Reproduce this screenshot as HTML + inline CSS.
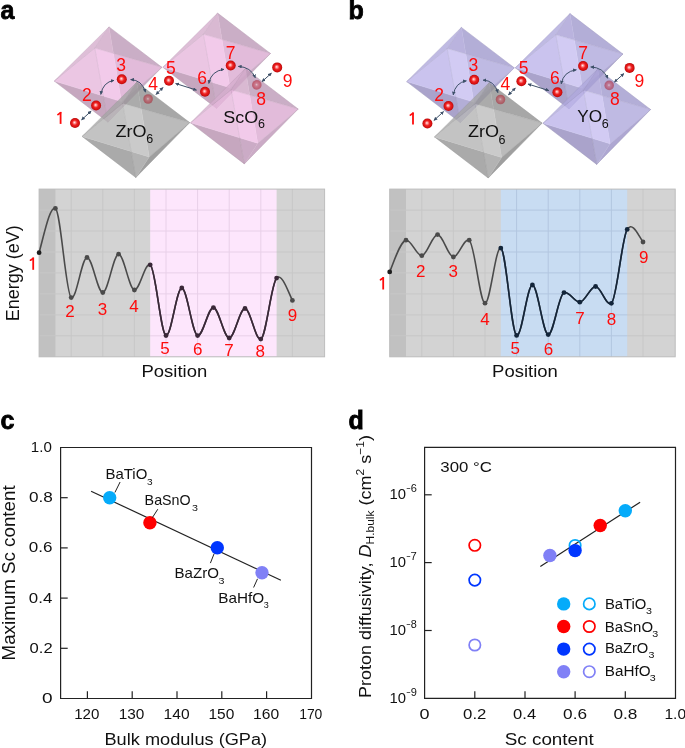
<!DOCTYPE html><html><head><meta charset="utf-8"><style>html,body{margin:0;padding:0;background:#fff;overflow:hidden}svg{display:block;will-change:transform}text{font-family:"Liberation Sans", sans-serif}</style></head><body>
<svg width="685" height="748" viewBox="0 0 685 748">
<defs>
<radialGradient id="atom" cx="0.5" cy="0.5" r="0.5" fx="0.44" fy="0.44">
<stop offset="0" stop-color="#fff0f0"/><stop offset="0.2" stop-color="#ff9a9a"/><stop offset="0.5" stop-color="#ee2222"/><stop offset="0.85" stop-color="#d40e0e"/><stop offset="1" stop-color="#b00c0c"/></radialGradient>
<radialGradient id="atomf" cx="0.5" cy="0.5" r="0.5" fx="0.47" fy="0.47">
<stop offset="0" stop-color="#f4d0d0"/><stop offset="0.3" stop-color="#cc5060"/><stop offset="0.7" stop-color="#bc1c2c"/><stop offset="1" stop-color="#a01020"/></radialGradient>
<marker id="ah" viewBox="0 0 10 10" refX="9" refY="5" markerWidth="3.7" markerHeight="3.7" orient="auto-start-reverse" markerUnits="userSpaceOnUse"><path d="M0,0 L10,5 L0,10 z" fill="#3d5068"/></marker>
</defs>
<rect width="685" height="748" fill="#fff"/>
<text x="0.5" y="19.1" font-size="25" font-weight="bold" fill="#000" stroke="#000" stroke-width="0.8">a</text>
<text x="348.5" y="19.1" font-size="25" font-weight="bold" fill="#000" stroke="#000" stroke-width="0.8">b</text>
<text x="0.5" y="429.1" font-size="25" font-weight="bold" fill="#000" stroke="#000" stroke-width="0.8">c</text>
<text x="348.5" y="428.9" font-size="25" font-weight="bold" fill="#000" stroke="#000" stroke-width="0.8">d</text>
<g transform="translate(0.0,0.0)"><g transform="translate(109.0,26.9)" opacity="0.80"><polygon points="4.40,26.52 0.00,0.00 52.90,40.40 52.90,40.40" fill="#be9ab8" stroke="#be9ab8" stroke-width="0.4"/><polygon points="-14.20,21.20 -0.00,0.00 0.00,0.00 4.40,26.52" fill="#d0a8c8" stroke="#d0a8c8" stroke-width="0.4"/><polygon points="12.40,74.70 4.40,26.52 52.90,40.40 52.90,40.40" fill="#dbabd1" stroke="#dbabd1" stroke-width="0.4"/><polygon points="12.40,74.70 52.90,40.40 -1.00,95.30" fill="#bf97b8" stroke="#bf97b8" stroke-width="0.4"/><polygon points="12.40,74.70 -1.00,95.30 -1.00,95.30 -5.65,69.18" fill="#bf97b8" stroke="#bf97b8" stroke-width="0.4"/><polygon points="12.40,74.70 -5.65,69.18 -14.20,21.20 4.40,26.52" fill="#efbde5" stroke="#efbde5" stroke-width="0.4"/><polygon points="-1.00,95.30 -1.00,95.30 -54.70,54.20 -5.65,69.18" fill="#b892b0" stroke="#b892b0" stroke-width="0.4"/><polygon points="-5.65,69.18 -54.70,54.20 -54.70,54.20 -14.20,21.20" fill="#e7b8dd" stroke="#e7b8dd" stroke-width="0.4"/><polygon points="-54.70,54.20 -54.70,54.20 0.00,0.00 0.00,0.00 -14.20,21.20" fill="#d6aece" stroke="#d6aece" stroke-width="0.4"/><g stroke="#000" stroke-opacity="0.12" stroke-width="0.6"><line x1="0.00" y1="0.00" x2="52.90" y2="40.40"/><line x1="52.90" y1="40.40" x2="-1.00" y2="95.30"/><line x1="-1.00" y1="95.30" x2="-54.70" y2="54.20"/><line x1="-54.70" y1="54.20" x2="0.00" y2="0.00"/><line x1="-14.20" y1="21.20" x2="0.00" y2="0.00"/><line x1="-14.20" y1="21.20" x2="52.90" y2="40.40"/><line x1="-14.20" y1="21.20" x2="-1.00" y2="95.30"/><line x1="-14.20" y1="21.20" x2="-54.70" y2="54.20"/></g><g stroke="#fff" stroke-opacity="0.04" stroke-width="0.6"><line x1="12.40" y1="74.70" x2="0.00" y2="0.00"/><line x1="12.40" y1="74.70" x2="52.90" y2="40.40"/><line x1="12.40" y1="74.70" x2="-1.00" y2="95.30"/><line x1="12.40" y1="74.70" x2="-54.70" y2="54.20"/></g></g><g transform="translate(217.6,13.1)" opacity="0.80"><polygon points="4.40,26.52 0.00,0.00 52.90,40.40 52.90,40.40" fill="#be9ab8" stroke="#be9ab8" stroke-width="0.4"/><polygon points="-14.20,21.20 -0.00,0.00 0.00,0.00 4.40,26.52" fill="#d0a8c8" stroke="#d0a8c8" stroke-width="0.4"/><polygon points="12.40,74.70 4.40,26.52 52.90,40.40 52.90,40.40" fill="#dbabd1" stroke="#dbabd1" stroke-width="0.4"/><polygon points="12.40,74.70 52.90,40.40 -1.00,95.30" fill="#bf97b8" stroke="#bf97b8" stroke-width="0.4"/><polygon points="12.40,74.70 -1.00,95.30 -1.00,95.30 -5.65,69.18" fill="#bf97b8" stroke="#bf97b8" stroke-width="0.4"/><polygon points="12.40,74.70 -5.65,69.18 -14.20,21.20 4.40,26.52" fill="#efbde5" stroke="#efbde5" stroke-width="0.4"/><polygon points="-1.00,95.30 -1.00,95.30 -54.70,54.20 -5.65,69.18" fill="#b892b0" stroke="#b892b0" stroke-width="0.4"/><polygon points="-5.65,69.18 -54.70,54.20 -54.70,54.20 -14.20,21.20" fill="#e7b8dd" stroke="#e7b8dd" stroke-width="0.4"/><polygon points="-54.70,54.20 -54.70,54.20 0.00,0.00 0.00,0.00 -14.20,21.20" fill="#d6aece" stroke="#d6aece" stroke-width="0.4"/><g stroke="#000" stroke-opacity="0.12" stroke-width="0.6"><line x1="0.00" y1="0.00" x2="52.90" y2="40.40"/><line x1="52.90" y1="40.40" x2="-1.00" y2="95.30"/><line x1="-1.00" y1="95.30" x2="-54.70" y2="54.20"/><line x1="-54.70" y1="54.20" x2="0.00" y2="0.00"/><line x1="-14.20" y1="21.20" x2="0.00" y2="0.00"/><line x1="-14.20" y1="21.20" x2="52.90" y2="40.40"/><line x1="-14.20" y1="21.20" x2="-1.00" y2="95.30"/><line x1="-14.20" y1="21.20" x2="-54.70" y2="54.20"/></g><g stroke="#fff" stroke-opacity="0.04" stroke-width="0.6"><line x1="12.40" y1="74.70" x2="0.00" y2="0.00"/><line x1="12.40" y1="74.70" x2="52.90" y2="40.40"/><line x1="12.40" y1="74.70" x2="-1.00" y2="95.30"/><line x1="12.40" y1="74.70" x2="-54.70" y2="54.20"/></g></g><g transform="translate(136.8,82.2)" opacity="0.80"><polygon points="4.40,26.52 0.00,0.00 52.90,40.40 52.90,40.40" fill="#929292" stroke="#929292" stroke-width="0.4"/><polygon points="-14.20,21.20 -0.00,0.00 0.00,0.00 4.40,26.52" fill="#979797" stroke="#979797" stroke-width="0.4"/><polygon points="12.40,74.70 4.40,26.52 52.90,40.40 52.90,40.40" fill="#ababab" stroke="#ababab" stroke-width="0.4"/><polygon points="12.40,74.70 52.90,40.40 -1.00,95.30" fill="#888888" stroke="#888888" stroke-width="0.4"/><polygon points="12.40,74.70 -1.00,95.30 -1.00,95.30 -5.65,69.18" fill="#a1a1a1" stroke="#a1a1a1" stroke-width="0.4"/><polygon points="12.40,74.70 -5.65,69.18 -14.20,21.20 4.40,26.52" fill="#bdbdbd" stroke="#bdbdbd" stroke-width="0.4"/><polygon points="-1.00,95.30 -1.00,95.30 -54.70,54.20 -5.65,69.18" fill="#959595" stroke="#959595" stroke-width="0.4"/><polygon points="-5.65,69.18 -54.70,54.20 -54.70,54.20 -14.20,21.20" fill="#b5b5b5" stroke="#b5b5b5" stroke-width="0.4"/><polygon points="-54.70,54.20 -54.70,54.20 0.00,0.00 0.00,0.00 -14.20,21.20" fill="#a6a6a6" stroke="#a6a6a6" stroke-width="0.4"/><g stroke="#000" stroke-opacity="0.12" stroke-width="0.6"><line x1="0.00" y1="0.00" x2="52.90" y2="40.40"/><line x1="52.90" y1="40.40" x2="-1.00" y2="95.30"/><line x1="-1.00" y1="95.30" x2="-54.70" y2="54.20"/><line x1="-54.70" y1="54.20" x2="0.00" y2="0.00"/><line x1="-14.20" y1="21.20" x2="0.00" y2="0.00"/><line x1="-14.20" y1="21.20" x2="52.90" y2="40.40"/><line x1="-14.20" y1="21.20" x2="-1.00" y2="95.30"/><line x1="-14.20" y1="21.20" x2="-54.70" y2="54.20"/></g><g stroke="#fff" stroke-opacity="0.04" stroke-width="0.6"><line x1="12.40" y1="74.70" x2="0.00" y2="0.00"/><line x1="12.40" y1="74.70" x2="52.90" y2="40.40"/><line x1="12.40" y1="74.70" x2="-1.00" y2="95.30"/><line x1="12.40" y1="74.70" x2="-54.70" y2="54.20"/></g></g><g transform="translate(245.3,68.6)" opacity="0.80"><polygon points="4.40,26.52 0.00,0.00 52.90,40.40 52.90,40.40" fill="#be9ab8" stroke="#be9ab8" stroke-width="0.4"/><polygon points="-14.20,21.20 -0.00,0.00 0.00,0.00 4.40,26.52" fill="#d0a8c8" stroke="#d0a8c8" stroke-width="0.4"/><polygon points="12.40,74.70 4.40,26.52 52.90,40.40 52.90,40.40" fill="#dbabd1" stroke="#dbabd1" stroke-width="0.4"/><polygon points="12.40,74.70 52.90,40.40 -1.00,95.30" fill="#bf97b8" stroke="#bf97b8" stroke-width="0.4"/><polygon points="12.40,74.70 -1.00,95.30 -1.00,95.30 -5.65,69.18" fill="#bf97b8" stroke="#bf97b8" stroke-width="0.4"/><polygon points="12.40,74.70 -5.65,69.18 -14.20,21.20 4.40,26.52" fill="#efbde5" stroke="#efbde5" stroke-width="0.4"/><polygon points="-1.00,95.30 -1.00,95.30 -54.70,54.20 -5.65,69.18" fill="#b892b0" stroke="#b892b0" stroke-width="0.4"/><polygon points="-5.65,69.18 -54.70,54.20 -54.70,54.20 -14.20,21.20" fill="#e7b8dd" stroke="#e7b8dd" stroke-width="0.4"/><polygon points="-54.70,54.20 -54.70,54.20 0.00,0.00 0.00,0.00 -14.20,21.20" fill="#d6aece" stroke="#d6aece" stroke-width="0.4"/><g stroke="#000" stroke-opacity="0.12" stroke-width="0.6"><line x1="0.00" y1="0.00" x2="52.90" y2="40.40"/><line x1="52.90" y1="40.40" x2="-1.00" y2="95.30"/><line x1="-1.00" y1="95.30" x2="-54.70" y2="54.20"/><line x1="-54.70" y1="54.20" x2="0.00" y2="0.00"/><line x1="-14.20" y1="21.20" x2="0.00" y2="0.00"/><line x1="-14.20" y1="21.20" x2="52.90" y2="40.40"/><line x1="-14.20" y1="21.20" x2="-1.00" y2="95.30"/><line x1="-14.20" y1="21.20" x2="-54.70" y2="54.20"/></g><g stroke="#fff" stroke-opacity="0.04" stroke-width="0.6"><line x1="12.40" y1="74.70" x2="0.00" y2="0.00"/><line x1="12.40" y1="74.70" x2="52.90" y2="40.40"/><line x1="12.40" y1="74.70" x2="-1.00" y2="95.30"/><line x1="12.40" y1="74.70" x2="-54.70" y2="54.20"/></g></g><g opacity="0.5"><circle cx="148.1" cy="99.0" r="4.8" fill="url(#atomf)"/><circle cx="256.8" cy="84.9" r="4.8" fill="url(#atomf)"/></g><circle cx="75.0" cy="123.0" r="5.0" fill="url(#atom)"/><circle cx="96.1" cy="105.5" r="5.0" fill="url(#atom)"/><circle cx="121.8" cy="79.2" r="5.0" fill="url(#atom)"/><circle cx="169.0" cy="80.7" r="5.0" fill="url(#atom)"/><circle cx="205.0" cy="91.7" r="5.0" fill="url(#atom)"/><circle cx="230.7" cy="65.5" r="5.0" fill="url(#atom)"/><circle cx="277.2" cy="67.4" r="5.0" fill="url(#atom)"/><line x1="81.5" y1="119.9" x2="91.2" y2="111.1" stroke="#3d5068" stroke-width="1.0" marker-start="url(#ah)" marker-end="url(#ah)"/><path d="M100.8,94.5 Q103.0,82.0 114.0,80.4" fill="none" stroke="#3d5068" stroke-width="1.0" marker-start="url(#ah)" marker-end="url(#ah)"/><path d="M130.6,79.6 Q142.0,80.0 145.5,92.2" fill="none" stroke="#3d5068" stroke-width="1.0" marker-start="url(#ah)" marker-end="url(#ah)"/><line x1="156.0" y1="94.5" x2="163.0" y2="87.4" stroke="#3d5068" stroke-width="1.0" marker-start="url(#ah)" marker-end="url(#ah)"/><line x1="175.6" y1="83.5" x2="196.5" y2="90.1" stroke="#3d5068" stroke-width="1.0" marker-start="url(#ah)" marker-end="url(#ah)"/><path d="M208.8,83.5 Q211.0,71.0 224.0,69.3" fill="none" stroke="#3d5068" stroke-width="1.0" marker-start="url(#ah)" marker-end="url(#ah)"/><path d="M238.3,66.4 Q251.0,67.0 255.3,77.8" fill="none" stroke="#3d5068" stroke-width="1.0" marker-start="url(#ah)" marker-end="url(#ah)"/><line x1="262.0" y1="81.6" x2="271.5" y2="73.1" stroke="#3d5068" stroke-width="1.0" marker-start="url(#ah)" marker-end="url(#ah)"/><path d="M59.70,123.90 V111.90 H61.50 V123.90 Z" fill="#fe0c0c"/><line x1="60.60" y1="112.80" x2="57.90" y2="114.60" stroke="#fe0c0c" stroke-width="1.7" stroke-linecap="round"/><text x="86.8" y="100.5" font-size="17.5" fill="#fe0c0c" text-anchor="middle">2</text><text x="121.0" y="70.7" font-size="17.5" fill="#fe0c0c" text-anchor="middle">3</text><text x="153.0" y="89.8" font-size="17.5" fill="#fe0c0c" text-anchor="middle">4</text><text x="170.9" y="74.3" font-size="17.5" fill="#fe0c0c" text-anchor="middle">5</text><text x="202.0" y="83.8" font-size="17.5" fill="#fe0c0c" text-anchor="middle">6</text><text x="230.7" y="58.8" font-size="17.5" fill="#fe0c0c" text-anchor="middle">7</text><text x="261.0" y="104.8" font-size="17.5" fill="#fe0c0c" text-anchor="middle">8</text><text x="287.5" y="86.6" font-size="17.5" fill="#fe0c0c" text-anchor="middle">9</text><text x="115.6" y="136.9" font-size="16.5" fill="#111" textLength="31" lengthAdjust="spacingAndGlyphs">ZrO</text><text x="146.2" y="143" font-size="12.5" fill="#111">6</text><text x="223.2" y="122.7" font-size="16.5" fill="#111" textLength="35" lengthAdjust="spacingAndGlyphs">ScO</text><text x="257.9" y="128.3" font-size="12.5" fill="#111">6</text></g>
<g transform="translate(352.4,0.5)"><g transform="translate(109.0,26.9)" opacity="0.80"><polygon points="4.40,26.52 0.00,0.00 52.90,40.40 52.90,40.40" fill="#a19ace" stroke="#a19ace" stroke-width="0.4"/><polygon points="-14.20,21.20 -0.00,0.00 0.00,0.00 4.40,26.52" fill="#a9a1d6" stroke="#a9a1d6" stroke-width="0.4"/><polygon points="12.40,74.70 4.40,26.52 52.90,40.40 52.90,40.40" fill="#b0a9dd" stroke="#b0a9dd" stroke-width="0.4"/><polygon points="12.40,74.70 52.90,40.40 -1.00,95.30" fill="#9a92c7" stroke="#9a92c7" stroke-width="0.4"/><polygon points="12.40,74.70 -1.00,95.30 -1.00,95.30 -5.65,69.18" fill="#a19acc" stroke="#a19acc" stroke-width="0.4"/><polygon points="12.40,74.70 -5.65,69.18 -14.20,21.20 4.40,26.52" fill="#c7bff1" stroke="#c7bff1" stroke-width="0.4"/><polygon points="-1.00,95.30 -1.00,95.30 -54.70,54.20 -5.65,69.18" fill="#958dbf" stroke="#958dbf" stroke-width="0.4"/><polygon points="-5.65,69.18 -54.70,54.20 -54.70,54.20 -14.20,21.20" fill="#bdb5ea" stroke="#bdb5ea" stroke-width="0.4"/><polygon points="-54.70,54.20 -54.70,54.20 0.00,0.00 0.00,0.00 -14.20,21.20" fill="#b0a9dd" stroke="#b0a9dd" stroke-width="0.4"/><g stroke="#000" stroke-opacity="0.12" stroke-width="0.6"><line x1="0.00" y1="0.00" x2="52.90" y2="40.40"/><line x1="52.90" y1="40.40" x2="-1.00" y2="95.30"/><line x1="-1.00" y1="95.30" x2="-54.70" y2="54.20"/><line x1="-54.70" y1="54.20" x2="0.00" y2="0.00"/><line x1="-14.20" y1="21.20" x2="0.00" y2="0.00"/><line x1="-14.20" y1="21.20" x2="52.90" y2="40.40"/><line x1="-14.20" y1="21.20" x2="-1.00" y2="95.30"/><line x1="-14.20" y1="21.20" x2="-54.70" y2="54.20"/></g><g stroke="#fff" stroke-opacity="0.04" stroke-width="0.6"><line x1="12.40" y1="74.70" x2="0.00" y2="0.00"/><line x1="12.40" y1="74.70" x2="52.90" y2="40.40"/><line x1="12.40" y1="74.70" x2="-1.00" y2="95.30"/><line x1="12.40" y1="74.70" x2="-54.70" y2="54.20"/></g></g><g transform="translate(217.6,13.1)" opacity="0.80"><polygon points="4.40,26.52 0.00,0.00 52.90,40.40 52.90,40.40" fill="#a19ace" stroke="#a19ace" stroke-width="0.4"/><polygon points="-14.20,21.20 -0.00,0.00 0.00,0.00 4.40,26.52" fill="#a9a1d6" stroke="#a9a1d6" stroke-width="0.4"/><polygon points="12.40,74.70 4.40,26.52 52.90,40.40 52.90,40.40" fill="#b0a9dd" stroke="#b0a9dd" stroke-width="0.4"/><polygon points="12.40,74.70 52.90,40.40 -1.00,95.30" fill="#9a92c7" stroke="#9a92c7" stroke-width="0.4"/><polygon points="12.40,74.70 -1.00,95.30 -1.00,95.30 -5.65,69.18" fill="#a19acc" stroke="#a19acc" stroke-width="0.4"/><polygon points="12.40,74.70 -5.65,69.18 -14.20,21.20 4.40,26.52" fill="#c7bff1" stroke="#c7bff1" stroke-width="0.4"/><polygon points="-1.00,95.30 -1.00,95.30 -54.70,54.20 -5.65,69.18" fill="#958dbf" stroke="#958dbf" stroke-width="0.4"/><polygon points="-5.65,69.18 -54.70,54.20 -54.70,54.20 -14.20,21.20" fill="#bdb5ea" stroke="#bdb5ea" stroke-width="0.4"/><polygon points="-54.70,54.20 -54.70,54.20 0.00,0.00 0.00,0.00 -14.20,21.20" fill="#b0a9dd" stroke="#b0a9dd" stroke-width="0.4"/><g stroke="#000" stroke-opacity="0.12" stroke-width="0.6"><line x1="0.00" y1="0.00" x2="52.90" y2="40.40"/><line x1="52.90" y1="40.40" x2="-1.00" y2="95.30"/><line x1="-1.00" y1="95.30" x2="-54.70" y2="54.20"/><line x1="-54.70" y1="54.20" x2="0.00" y2="0.00"/><line x1="-14.20" y1="21.20" x2="0.00" y2="0.00"/><line x1="-14.20" y1="21.20" x2="52.90" y2="40.40"/><line x1="-14.20" y1="21.20" x2="-1.00" y2="95.30"/><line x1="-14.20" y1="21.20" x2="-54.70" y2="54.20"/></g><g stroke="#fff" stroke-opacity="0.04" stroke-width="0.6"><line x1="12.40" y1="74.70" x2="0.00" y2="0.00"/><line x1="12.40" y1="74.70" x2="52.90" y2="40.40"/><line x1="12.40" y1="74.70" x2="-1.00" y2="95.30"/><line x1="12.40" y1="74.70" x2="-54.70" y2="54.20"/></g></g><g transform="translate(136.8,82.2)" opacity="0.80"><polygon points="4.40,26.52 0.00,0.00 52.90,40.40 52.90,40.40" fill="#929292" stroke="#929292" stroke-width="0.4"/><polygon points="-14.20,21.20 -0.00,0.00 0.00,0.00 4.40,26.52" fill="#979797" stroke="#979797" stroke-width="0.4"/><polygon points="12.40,74.70 4.40,26.52 52.90,40.40 52.90,40.40" fill="#ababab" stroke="#ababab" stroke-width="0.4"/><polygon points="12.40,74.70 52.90,40.40 -1.00,95.30" fill="#888888" stroke="#888888" stroke-width="0.4"/><polygon points="12.40,74.70 -1.00,95.30 -1.00,95.30 -5.65,69.18" fill="#a1a1a1" stroke="#a1a1a1" stroke-width="0.4"/><polygon points="12.40,74.70 -5.65,69.18 -14.20,21.20 4.40,26.52" fill="#bdbdbd" stroke="#bdbdbd" stroke-width="0.4"/><polygon points="-1.00,95.30 -1.00,95.30 -54.70,54.20 -5.65,69.18" fill="#959595" stroke="#959595" stroke-width="0.4"/><polygon points="-5.65,69.18 -54.70,54.20 -54.70,54.20 -14.20,21.20" fill="#b5b5b5" stroke="#b5b5b5" stroke-width="0.4"/><polygon points="-54.70,54.20 -54.70,54.20 0.00,0.00 0.00,0.00 -14.20,21.20" fill="#a6a6a6" stroke="#a6a6a6" stroke-width="0.4"/><g stroke="#000" stroke-opacity="0.12" stroke-width="0.6"><line x1="0.00" y1="0.00" x2="52.90" y2="40.40"/><line x1="52.90" y1="40.40" x2="-1.00" y2="95.30"/><line x1="-1.00" y1="95.30" x2="-54.70" y2="54.20"/><line x1="-54.70" y1="54.20" x2="0.00" y2="0.00"/><line x1="-14.20" y1="21.20" x2="0.00" y2="0.00"/><line x1="-14.20" y1="21.20" x2="52.90" y2="40.40"/><line x1="-14.20" y1="21.20" x2="-1.00" y2="95.30"/><line x1="-14.20" y1="21.20" x2="-54.70" y2="54.20"/></g><g stroke="#fff" stroke-opacity="0.04" stroke-width="0.6"><line x1="12.40" y1="74.70" x2="0.00" y2="0.00"/><line x1="12.40" y1="74.70" x2="52.90" y2="40.40"/><line x1="12.40" y1="74.70" x2="-1.00" y2="95.30"/><line x1="12.40" y1="74.70" x2="-54.70" y2="54.20"/></g></g><g transform="translate(245.3,68.6)" opacity="0.80"><polygon points="4.40,26.52 0.00,0.00 52.90,40.40 52.90,40.40" fill="#a19ace" stroke="#a19ace" stroke-width="0.4"/><polygon points="-14.20,21.20 -0.00,0.00 0.00,0.00 4.40,26.52" fill="#a9a1d6" stroke="#a9a1d6" stroke-width="0.4"/><polygon points="12.40,74.70 4.40,26.52 52.90,40.40 52.90,40.40" fill="#b0a9dd" stroke="#b0a9dd" stroke-width="0.4"/><polygon points="12.40,74.70 52.90,40.40 -1.00,95.30" fill="#9a92c7" stroke="#9a92c7" stroke-width="0.4"/><polygon points="12.40,74.70 -1.00,95.30 -1.00,95.30 -5.65,69.18" fill="#a19acc" stroke="#a19acc" stroke-width="0.4"/><polygon points="12.40,74.70 -5.65,69.18 -14.20,21.20 4.40,26.52" fill="#c7bff1" stroke="#c7bff1" stroke-width="0.4"/><polygon points="-1.00,95.30 -1.00,95.30 -54.70,54.20 -5.65,69.18" fill="#958dbf" stroke="#958dbf" stroke-width="0.4"/><polygon points="-5.65,69.18 -54.70,54.20 -54.70,54.20 -14.20,21.20" fill="#bdb5ea" stroke="#bdb5ea" stroke-width="0.4"/><polygon points="-54.70,54.20 -54.70,54.20 0.00,0.00 0.00,0.00 -14.20,21.20" fill="#b0a9dd" stroke="#b0a9dd" stroke-width="0.4"/><g stroke="#000" stroke-opacity="0.12" stroke-width="0.6"><line x1="0.00" y1="0.00" x2="52.90" y2="40.40"/><line x1="52.90" y1="40.40" x2="-1.00" y2="95.30"/><line x1="-1.00" y1="95.30" x2="-54.70" y2="54.20"/><line x1="-54.70" y1="54.20" x2="0.00" y2="0.00"/><line x1="-14.20" y1="21.20" x2="0.00" y2="0.00"/><line x1="-14.20" y1="21.20" x2="52.90" y2="40.40"/><line x1="-14.20" y1="21.20" x2="-1.00" y2="95.30"/><line x1="-14.20" y1="21.20" x2="-54.70" y2="54.20"/></g><g stroke="#fff" stroke-opacity="0.04" stroke-width="0.6"><line x1="12.40" y1="74.70" x2="0.00" y2="0.00"/><line x1="12.40" y1="74.70" x2="52.90" y2="40.40"/><line x1="12.40" y1="74.70" x2="-1.00" y2="95.30"/><line x1="12.40" y1="74.70" x2="-54.70" y2="54.20"/></g></g><g opacity="0.5"><circle cx="148.1" cy="99.0" r="4.8" fill="url(#atomf)"/><circle cx="256.8" cy="84.9" r="4.8" fill="url(#atomf)"/></g><circle cx="75.0" cy="123.0" r="5.0" fill="url(#atom)"/><circle cx="96.1" cy="105.5" r="5.0" fill="url(#atom)"/><circle cx="121.8" cy="79.2" r="5.0" fill="url(#atom)"/><circle cx="169.0" cy="80.7" r="5.0" fill="url(#atom)"/><circle cx="205.0" cy="91.7" r="5.0" fill="url(#atom)"/><circle cx="230.7" cy="65.5" r="5.0" fill="url(#atom)"/><circle cx="277.2" cy="67.4" r="5.0" fill="url(#atom)"/><line x1="81.5" y1="119.9" x2="91.2" y2="111.1" stroke="#3d5068" stroke-width="1.0" marker-start="url(#ah)" marker-end="url(#ah)"/><path d="M100.8,94.5 Q103.0,82.0 114.0,80.4" fill="none" stroke="#3d5068" stroke-width="1.0" marker-start="url(#ah)" marker-end="url(#ah)"/><path d="M130.6,79.6 Q142.0,80.0 145.5,92.2" fill="none" stroke="#3d5068" stroke-width="1.0" marker-start="url(#ah)" marker-end="url(#ah)"/><line x1="156.0" y1="94.5" x2="163.0" y2="87.4" stroke="#3d5068" stroke-width="1.0" marker-start="url(#ah)" marker-end="url(#ah)"/><line x1="175.6" y1="83.5" x2="196.5" y2="90.1" stroke="#3d5068" stroke-width="1.0" marker-start="url(#ah)" marker-end="url(#ah)"/><path d="M208.8,83.5 Q211.0,71.0 224.0,69.3" fill="none" stroke="#3d5068" stroke-width="1.0" marker-start="url(#ah)" marker-end="url(#ah)"/><path d="M238.3,66.4 Q251.0,67.0 255.3,77.8" fill="none" stroke="#3d5068" stroke-width="1.0" marker-start="url(#ah)" marker-end="url(#ah)"/><line x1="262.0" y1="81.6" x2="271.5" y2="73.1" stroke="#3d5068" stroke-width="1.0" marker-start="url(#ah)" marker-end="url(#ah)"/><path d="M59.70,123.90 V111.90 H61.50 V123.90 Z" fill="#fe0c0c"/><line x1="60.60" y1="112.80" x2="57.90" y2="114.60" stroke="#fe0c0c" stroke-width="1.7" stroke-linecap="round"/><text x="86.8" y="100.5" font-size="17.5" fill="#fe0c0c" text-anchor="middle">2</text><text x="121.0" y="70.7" font-size="17.5" fill="#fe0c0c" text-anchor="middle">3</text><text x="153.0" y="89.8" font-size="17.5" fill="#fe0c0c" text-anchor="middle">4</text><text x="171.2" y="73.7" font-size="17.5" fill="#fe0c0c" text-anchor="middle">5</text><text x="202.5" y="83.0" font-size="17.5" fill="#fe0c0c" text-anchor="middle">6</text><text x="230.7" y="58.2" font-size="17.5" fill="#fe0c0c" text-anchor="middle">7</text><text x="262.6" y="104.8" font-size="17.5" fill="#fe0c0c" text-anchor="middle">8</text><text x="286.9" y="86.0" font-size="17.5" fill="#fe0c0c" text-anchor="middle">9</text><text x="115.6" y="136.9" font-size="16.5" fill="#111" textLength="31" lengthAdjust="spacingAndGlyphs">ZrO</text><text x="146.2" y="143" font-size="12.5" fill="#111">6</text><text x="224.8" y="121.9" font-size="16.5" fill="#111" textLength="24.8" lengthAdjust="spacingAndGlyphs">YO</text><text x="249.4" y="127.8" font-size="12.5" fill="#111">6</text></g>
<rect x="39.1" y="189.1" width="285.5" height="167.7" fill="#d3d3d3"/><rect x="39.1" y="189.1" width="16.3" height="167.7" fill="#c1c1c1"/><rect x="150.2" y="189.1" width="126.4" height="167.7" fill="#fde6fc"/><line x1="71.2" y1="189.1" x2="71.2" y2="356.8" stroke="#c7c7c7" stroke-width="1"/><line x1="102.8" y1="189.1" x2="102.8" y2="356.8" stroke="#c7c7c7" stroke-width="1"/><line x1="134.4" y1="189.1" x2="134.4" y2="356.8" stroke="#c7c7c7" stroke-width="1"/><line x1="166.0" y1="189.1" x2="166.0" y2="356.8" stroke="#e8d0e8" stroke-width="1"/><line x1="197.6" y1="189.1" x2="197.6" y2="356.8" stroke="#e8d0e8" stroke-width="1"/><line x1="229.2" y1="189.1" x2="229.2" y2="356.8" stroke="#e8d0e8" stroke-width="1"/><line x1="260.8" y1="189.1" x2="260.8" y2="356.8" stroke="#e8d0e8" stroke-width="1"/><line x1="292.4" y1="189.1" x2="292.4" y2="356.8" stroke="#c7c7c7" stroke-width="1"/><line x1="39.1" y1="210.1" x2="150.2" y2="210.1" stroke="#c7c7c7" stroke-width="1"/><line x1="150.2" y1="210.1" x2="276.6" y2="210.1" stroke="#e8d0e8" stroke-width="1"/><line x1="276.6" y1="210.1" x2="324.6" y2="210.1" stroke="#c7c7c7" stroke-width="1"/><line x1="39.1" y1="231.0" x2="150.2" y2="231.0" stroke="#c7c7c7" stroke-width="1"/><line x1="150.2" y1="231.0" x2="276.6" y2="231.0" stroke="#e8d0e8" stroke-width="1"/><line x1="276.6" y1="231.0" x2="324.6" y2="231.0" stroke="#c7c7c7" stroke-width="1"/><line x1="39.1" y1="252.0" x2="150.2" y2="252.0" stroke="#c7c7c7" stroke-width="1"/><line x1="150.2" y1="252.0" x2="276.6" y2="252.0" stroke="#e8d0e8" stroke-width="1"/><line x1="276.6" y1="252.0" x2="324.6" y2="252.0" stroke="#c7c7c7" stroke-width="1"/><line x1="39.1" y1="272.9" x2="150.2" y2="272.9" stroke="#c7c7c7" stroke-width="1"/><line x1="150.2" y1="272.9" x2="276.6" y2="272.9" stroke="#e8d0e8" stroke-width="1"/><line x1="276.6" y1="272.9" x2="324.6" y2="272.9" stroke="#c7c7c7" stroke-width="1"/><line x1="39.1" y1="293.9" x2="150.2" y2="293.9" stroke="#c7c7c7" stroke-width="1"/><line x1="150.2" y1="293.9" x2="276.6" y2="293.9" stroke="#e8d0e8" stroke-width="1"/><line x1="276.6" y1="293.9" x2="324.6" y2="293.9" stroke="#c7c7c7" stroke-width="1"/><line x1="39.1" y1="314.9" x2="150.2" y2="314.9" stroke="#c7c7c7" stroke-width="1"/><line x1="150.2" y1="314.9" x2="276.6" y2="314.9" stroke="#e8d0e8" stroke-width="1"/><line x1="276.6" y1="314.9" x2="324.6" y2="314.9" stroke="#c7c7c7" stroke-width="1"/><line x1="39.1" y1="335.8" x2="150.2" y2="335.8" stroke="#c7c7c7" stroke-width="1"/><line x1="150.2" y1="335.8" x2="276.6" y2="335.8" stroke="#e8d0e8" stroke-width="1"/><line x1="276.6" y1="335.8" x2="324.6" y2="335.8" stroke="#c7c7c7" stroke-width="1"/><rect x="39.1" y="189.1" width="285.5" height="167.7" fill="none" stroke="#bdbdbd" stroke-width="1"/><clipPath id="clip39"><rect x="150.2" y="0" width="126.4" height="748"/></clipPath><path d="M39.10,252.70 C44.53,232.71 49.97,205.74 55.40,208.40 C60.67,210.98 65.93,294.74 71.20,297.60 C76.47,300.46 81.73,257.80 87.00,257.50 C92.27,257.20 97.53,292.69 102.80,292.50 C108.07,292.31 113.33,254.35 118.60,254.20 C123.87,254.05 129.13,289.38 134.40,290.00 C139.67,290.62 144.93,262.15 150.20,264.80 C155.47,267.45 160.73,334.15 166.00,335.50 C171.27,336.85 176.53,287.99 181.80,288.00 C187.07,288.01 192.33,334.46 197.60,335.60 C202.87,336.74 208.13,307.46 213.40,307.60 C218.67,307.74 223.93,337.95 229.20,338.00 C234.47,338.05 239.73,308.44 245.00,308.50 C250.27,308.56 255.53,340.87 260.80,339.10 C266.07,337.33 271.33,283.26 276.60,278.10 C281.87,272.94 287.13,289.19 292.40,300.40" fill="none" stroke="#4a4a4a" stroke-width="1.6"/><g clip-path="url(#clip39)"><path d="M39.10,252.70 C44.53,232.71 49.97,205.74 55.40,208.40 C60.67,210.98 65.93,294.74 71.20,297.60 C76.47,300.46 81.73,257.80 87.00,257.50 C92.27,257.20 97.53,292.69 102.80,292.50 C108.07,292.31 113.33,254.35 118.60,254.20 C123.87,254.05 129.13,289.38 134.40,290.00 C139.67,290.62 144.93,262.15 150.20,264.80 C155.47,267.45 160.73,334.15 166.00,335.50 C171.27,336.85 176.53,287.99 181.80,288.00 C187.07,288.01 192.33,334.46 197.60,335.60 C202.87,336.74 208.13,307.46 213.40,307.60 C218.67,307.74 223.93,337.95 229.20,338.00 C234.47,338.05 239.73,308.44 245.00,308.50 C250.27,308.56 255.53,340.87 260.80,339.10 C266.07,337.33 271.33,283.26 276.60,278.10 C281.87,272.94 287.13,289.19 292.40,300.40" fill="none" stroke="#3a2838" stroke-width="1.6"/></g><circle cx="39.10" cy="252.70" r="2.4" fill="#1e1e1e"/><circle cx="55.40" cy="208.40" r="2.4" fill="#4a4a4a"/><circle cx="71.20" cy="297.60" r="2.4" fill="#4a4a4a"/><circle cx="87.00" cy="257.50" r="2.4" fill="#4a4a4a"/><circle cx="102.80" cy="292.50" r="2.4" fill="#4a4a4a"/><circle cx="118.60" cy="254.20" r="2.4" fill="#4a4a4a"/><circle cx="134.40" cy="290.00" r="2.4" fill="#4a4a4a"/><circle cx="150.20" cy="264.80" r="2.4" fill="#3a2838"/><circle cx="166.00" cy="335.50" r="2.4" fill="#3a2838"/><circle cx="181.80" cy="288.00" r="2.4" fill="#3a2838"/><circle cx="197.60" cy="335.60" r="2.4" fill="#3a2838"/><circle cx="213.40" cy="307.60" r="2.4" fill="#3a2838"/><circle cx="229.20" cy="338.00" r="2.4" fill="#3a2838"/><circle cx="245.00" cy="308.50" r="2.4" fill="#3a2838"/><circle cx="260.80" cy="339.10" r="2.4" fill="#3a2838"/><circle cx="276.60" cy="278.10" r="2.4" fill="#3a2838"/><circle cx="292.40" cy="300.40" r="2.4" fill="#4a4a4a"/><text x="70.1" y="317.3" font-size="17.0" fill="#fe0c0c" text-anchor="middle">2</text><text x="102.4" y="314.8" font-size="17.0" fill="#fe0c0c" text-anchor="middle">3</text><text x="134.1" y="312.2" font-size="17.0" fill="#fe0c0c" text-anchor="middle">4</text><text x="165.1" y="354.1" font-size="17.0" fill="#fe0c0c" text-anchor="middle">5</text><text x="197.8" y="354.8" font-size="17.0" fill="#fe0c0c" text-anchor="middle">6</text><text x="229.0" y="356.0" font-size="17.0" fill="#fe0c0c" text-anchor="middle">7</text><text x="260.3" y="356.8" font-size="17.0" fill="#fe0c0c" text-anchor="middle">8</text><text x="292.6" y="320.9" font-size="17.0" fill="#fe0c0c" text-anchor="middle">9</text><path d="M32.30,269.80 V257.50 H34.10 V269.80 Z" fill="#fe0c0c"/><line x1="33.20" y1="258.40" x2="30.50" y2="260.20" stroke="#fe0c0c" stroke-width="1.7" stroke-linecap="round"/><text x="141.48" y="377.40" font-size="17.00" fill="#111" textLength="65.73" lengthAdjust="spacingAndGlyphs">Position</text>
<rect x="389.7" y="189.1" width="285.5" height="167.7" fill="#d3d3d3"/><rect x="389.7" y="189.1" width="16.3" height="167.7" fill="#c1c1c1"/><rect x="500.8" y="189.1" width="126.4" height="167.7" fill="#c8dcf2"/><line x1="421.8" y1="189.1" x2="421.8" y2="356.8" stroke="#c7c7c7" stroke-width="1"/><line x1="453.4" y1="189.1" x2="453.4" y2="356.8" stroke="#c7c7c7" stroke-width="1"/><line x1="485.0" y1="189.1" x2="485.0" y2="356.8" stroke="#c7c7c7" stroke-width="1"/><line x1="516.6" y1="189.1" x2="516.6" y2="356.8" stroke="#b2c6e0" stroke-width="1"/><line x1="548.2" y1="189.1" x2="548.2" y2="356.8" stroke="#b2c6e0" stroke-width="1"/><line x1="579.8" y1="189.1" x2="579.8" y2="356.8" stroke="#b2c6e0" stroke-width="1"/><line x1="611.4" y1="189.1" x2="611.4" y2="356.8" stroke="#b2c6e0" stroke-width="1"/><line x1="643.0" y1="189.1" x2="643.0" y2="356.8" stroke="#c7c7c7" stroke-width="1"/><line x1="389.7" y1="210.1" x2="500.8" y2="210.1" stroke="#c7c7c7" stroke-width="1"/><line x1="500.8" y1="210.1" x2="627.2" y2="210.1" stroke="#b2c6e0" stroke-width="1"/><line x1="627.2" y1="210.1" x2="675.2" y2="210.1" stroke="#c7c7c7" stroke-width="1"/><line x1="389.7" y1="231.0" x2="500.8" y2="231.0" stroke="#c7c7c7" stroke-width="1"/><line x1="500.8" y1="231.0" x2="627.2" y2="231.0" stroke="#b2c6e0" stroke-width="1"/><line x1="627.2" y1="231.0" x2="675.2" y2="231.0" stroke="#c7c7c7" stroke-width="1"/><line x1="389.7" y1="252.0" x2="500.8" y2="252.0" stroke="#c7c7c7" stroke-width="1"/><line x1="500.8" y1="252.0" x2="627.2" y2="252.0" stroke="#b2c6e0" stroke-width="1"/><line x1="627.2" y1="252.0" x2="675.2" y2="252.0" stroke="#c7c7c7" stroke-width="1"/><line x1="389.7" y1="272.9" x2="500.8" y2="272.9" stroke="#c7c7c7" stroke-width="1"/><line x1="500.8" y1="272.9" x2="627.2" y2="272.9" stroke="#b2c6e0" stroke-width="1"/><line x1="627.2" y1="272.9" x2="675.2" y2="272.9" stroke="#c7c7c7" stroke-width="1"/><line x1="389.7" y1="293.9" x2="500.8" y2="293.9" stroke="#c7c7c7" stroke-width="1"/><line x1="500.8" y1="293.9" x2="627.2" y2="293.9" stroke="#b2c6e0" stroke-width="1"/><line x1="627.2" y1="293.9" x2="675.2" y2="293.9" stroke="#c7c7c7" stroke-width="1"/><line x1="389.7" y1="314.9" x2="500.8" y2="314.9" stroke="#c7c7c7" stroke-width="1"/><line x1="500.8" y1="314.9" x2="627.2" y2="314.9" stroke="#b2c6e0" stroke-width="1"/><line x1="627.2" y1="314.9" x2="675.2" y2="314.9" stroke="#c7c7c7" stroke-width="1"/><line x1="389.7" y1="335.8" x2="500.8" y2="335.8" stroke="#c7c7c7" stroke-width="1"/><line x1="500.8" y1="335.8" x2="627.2" y2="335.8" stroke="#b2c6e0" stroke-width="1"/><line x1="627.2" y1="335.8" x2="675.2" y2="335.8" stroke="#c7c7c7" stroke-width="1"/><rect x="389.7" y="189.1" width="285.5" height="167.7" fill="none" stroke="#bdbdbd" stroke-width="1"/><clipPath id="clip389"><rect x="500.8" y="0" width="126.4" height="748"/></clipPath><path d="M389.70,271.90 C395.13,258.45 400.57,241.16 406.00,240.20 C411.27,239.27 416.53,256.03 421.80,255.70 C427.07,255.37 432.33,234.52 437.60,234.60 C442.87,234.68 448.13,256.67 453.40,257.00 C458.67,257.33 463.93,237.50 469.20,240.20 C474.47,242.89 479.73,302.74 485.00,303.20 C490.27,303.66 495.53,246.22 500.80,248.10 C506.07,249.98 511.33,333.25 516.60,335.40 C521.87,337.55 527.13,285.05 532.40,285.00 C537.67,284.95 542.93,334.16 548.20,334.60 C553.47,335.04 558.73,294.49 564.00,292.60 C569.27,290.71 574.53,302.56 579.80,302.20 C585.07,301.84 590.33,286.44 595.60,286.50 C600.87,286.56 606.13,306.63 611.40,303.30 C616.67,299.97 621.93,237.57 627.20,229.40 C632.47,221.23 637.73,234.09 643.00,242.00" fill="none" stroke="#4a4a4a" stroke-width="1.6"/><g clip-path="url(#clip389)"><path d="M389.70,271.90 C395.13,258.45 400.57,241.16 406.00,240.20 C411.27,239.27 416.53,256.03 421.80,255.70 C427.07,255.37 432.33,234.52 437.60,234.60 C442.87,234.68 448.13,256.67 453.40,257.00 C458.67,257.33 463.93,237.50 469.20,240.20 C474.47,242.89 479.73,302.74 485.00,303.20 C490.27,303.66 495.53,246.22 500.80,248.10 C506.07,249.98 511.33,333.25 516.60,335.40 C521.87,337.55 527.13,285.05 532.40,285.00 C537.67,284.95 542.93,334.16 548.20,334.60 C553.47,335.04 558.73,294.49 564.00,292.60 C569.27,290.71 574.53,302.56 579.80,302.20 C585.07,301.84 590.33,286.44 595.60,286.50 C600.87,286.56 606.13,306.63 611.40,303.30 C616.67,299.97 621.93,237.57 627.20,229.40 C632.47,221.23 637.73,234.09 643.00,242.00" fill="none" stroke="#13253a" stroke-width="1.6"/></g><circle cx="389.70" cy="271.90" r="2.4" fill="#1e1e1e"/><circle cx="406.00" cy="240.20" r="2.4" fill="#4a4a4a"/><circle cx="421.80" cy="255.70" r="2.4" fill="#4a4a4a"/><circle cx="437.60" cy="234.60" r="2.4" fill="#4a4a4a"/><circle cx="453.40" cy="257.00" r="2.4" fill="#4a4a4a"/><circle cx="469.20" cy="240.20" r="2.4" fill="#4a4a4a"/><circle cx="485.00" cy="303.20" r="2.4" fill="#4a4a4a"/><circle cx="500.80" cy="248.10" r="2.4" fill="#13253a"/><circle cx="516.60" cy="335.40" r="2.4" fill="#13253a"/><circle cx="532.40" cy="285.00" r="2.4" fill="#13253a"/><circle cx="548.20" cy="334.60" r="2.4" fill="#13253a"/><circle cx="564.00" cy="292.60" r="2.4" fill="#13253a"/><circle cx="579.80" cy="302.20" r="2.4" fill="#13253a"/><circle cx="595.60" cy="286.50" r="2.4" fill="#13253a"/><circle cx="611.40" cy="303.30" r="2.4" fill="#13253a"/><circle cx="627.20" cy="229.40" r="2.4" fill="#13253a"/><circle cx="643.00" cy="242.00" r="2.4" fill="#4a4a4a"/><text x="420.7" y="276.7" font-size="17.0" fill="#fe0c0c" text-anchor="middle">2</text><text x="453.2" y="276.7" font-size="17.0" fill="#fe0c0c" text-anchor="middle">3</text><text x="485.0" y="324.9" font-size="17.0" fill="#fe0c0c" text-anchor="middle">4</text><text x="515.2" y="354.1" font-size="17.0" fill="#fe0c0c" text-anchor="middle">5</text><text x="548.6" y="354.5" font-size="17.0" fill="#fe0c0c" text-anchor="middle">6</text><text x="579.9" y="324.3" font-size="17.0" fill="#fe0c0c" text-anchor="middle">7</text><text x="611.5" y="325.0" font-size="17.0" fill="#fe0c0c" text-anchor="middle">8</text><text x="643.8" y="262.8" font-size="17.0" fill="#fe0c0c" text-anchor="middle">9</text><path d="M382.30,289.50 V277.10 H384.10 V289.50 Z" fill="#fe0c0c"/><line x1="383.20" y1="278.00" x2="380.50" y2="279.80" stroke="#fe0c0c" stroke-width="1.7" stroke-linecap="round"/><text x="492.08" y="377.40" font-size="17.00" fill="#111" textLength="65.73" lengthAdjust="spacingAndGlyphs">Position</text>
<g transform="translate(19,319.7) rotate(-90)"><text x="-1.48" y="0.00" font-size="18.40" fill="#111" textLength="95.81" lengthAdjust="spacingAndGlyphs">Energy (eV)</text></g>
<path d="M60.6,447.5 V698.5 H311.5 V447.5 Z" fill="none" stroke="#222" stroke-width="1.2"/><text x="41.94" y="703.00" font-size="14.60" fill="#111" textLength="10.60" lengthAdjust="spacingAndGlyphs">0</text><line x1="60.6" y1="648.3" x2="67.7" y2="648.3" stroke="#222" stroke-width="1.2"/><text x="29.54" y="652.80" font-size="14.60" fill="#111" textLength="23.10" lengthAdjust="spacingAndGlyphs">0.2</text><line x1="60.6" y1="598.1" x2="67.7" y2="598.1" stroke="#222" stroke-width="1.2"/><text x="28.83" y="602.60" font-size="14.60" fill="#111" textLength="23.44" lengthAdjust="spacingAndGlyphs">0.4</text><line x1="60.6" y1="547.9" x2="67.7" y2="547.9" stroke="#222" stroke-width="1.2"/><text x="28.82" y="552.40" font-size="14.60" fill="#111" textLength="23.71" lengthAdjust="spacingAndGlyphs">0.6</text><line x1="60.6" y1="497.7" x2="67.7" y2="497.7" stroke="#222" stroke-width="1.2"/><text x="29.01" y="502.20" font-size="14.60" fill="#111" textLength="23.82" lengthAdjust="spacingAndGlyphs">0.8</text><text x="30.87" y="452.00" font-size="14.60" fill="#111" textLength="21.00" lengthAdjust="spacingAndGlyphs">1.0</text><line x1="87.4" y1="698.5" x2="87.4" y2="691.3" stroke="#222" stroke-width="1.2"/><text x="74.17" y="719.20" font-size="14.80" fill="#111" textLength="25.22" lengthAdjust="spacingAndGlyphs">120</text><line x1="132.2" y1="698.5" x2="132.2" y2="691.3" stroke="#222" stroke-width="1.2"/><text x="118.75" y="719.20" font-size="14.80" fill="#111" textLength="25.64" lengthAdjust="spacingAndGlyphs">130</text><line x1="177.0" y1="698.5" x2="177.0" y2="691.3" stroke="#222" stroke-width="1.2"/><text x="163.63" y="719.20" font-size="14.80" fill="#111" textLength="25.97" lengthAdjust="spacingAndGlyphs">140</text><line x1="221.8" y1="698.5" x2="221.8" y2="691.3" stroke="#222" stroke-width="1.2"/><text x="208.44" y="719.20" font-size="14.80" fill="#111" textLength="25.86" lengthAdjust="spacingAndGlyphs">150</text><line x1="266.6" y1="698.5" x2="266.6" y2="691.3" stroke="#222" stroke-width="1.2"/><text x="253.13" y="719.20" font-size="14.80" fill="#111" textLength="26.07" lengthAdjust="spacingAndGlyphs">160</text><text x="299.16" y="719.20" font-size="14.80" fill="#111" textLength="23.18" lengthAdjust="spacingAndGlyphs">170</text><line x1="91.1" y1="491.2" x2="280.9" y2="580.3" stroke="#222" stroke-width="1.2"/><circle cx="109.7" cy="497.7" r="6.7" fill="#05abfa"/><circle cx="149.9" cy="522.7" r="6.7" fill="#fe0000"/><circle cx="217.3" cy="547.7" r="6.7" fill="#0036ff"/><circle cx="262.0" cy="572.7" r="6.7" fill="#8080f6"/><line x1="120.1" y1="482.0" x2="114.9" y2="492.5" stroke="#222" stroke-width="1"/><line x1="157.8" y1="509.2" x2="152.4" y2="517.6" stroke="#222" stroke-width="1"/><line x1="214.1" y1="553.7" x2="210.4" y2="563.1" stroke="#222" stroke-width="1"/><line x1="257.5" y1="578.8" x2="253.6" y2="587.5" stroke="#222" stroke-width="1"/><text x="105.47" y="479.30" font-size="14.10" fill="#111" textLength="41.84" lengthAdjust="spacingAndGlyphs">BaTiO</text><text x="147.02" y="484.90" font-size="8.50" fill="#111" textLength="5.62" lengthAdjust="spacingAndGlyphs">3</text><text x="144.62" y="504.60" font-size="14.10" fill="#111" textLength="46.04" lengthAdjust="spacingAndGlyphs">BaSnO</text><text x="191.90" y="510.50" font-size="8.50" fill="#111" textLength="5.97" lengthAdjust="spacingAndGlyphs">3</text><text x="174.56" y="578.20" font-size="14.10" fill="#111" textLength="44.36" lengthAdjust="spacingAndGlyphs">BaZrO</text><text x="218.50" y="583.60" font-size="8.50" fill="#111" textLength="5.97" lengthAdjust="spacingAndGlyphs">3</text><text x="218.34" y="602.60" font-size="14.10" fill="#111" textLength="45.80" lengthAdjust="spacingAndGlyphs">BaHfO</text><text x="263.86" y="607.90" font-size="8.50" fill="#111" textLength="5.03" lengthAdjust="spacingAndGlyphs">3</text><g transform="translate(14.9,658.9) rotate(-90)"><text x="-1.55" y="0.00" font-size="18.20" fill="#111" textLength="175.07" lengthAdjust="spacingAndGlyphs">Maximum Sc content</text></g><text x="104.50" y="744.60" font-size="17.30" fill="#111" textLength="162.64" lengthAdjust="spacingAndGlyphs">Bulk modulus (GPa)</text>
<path d="M424.6,447.3 V698.4 H675.5 V447.3 Z" fill="none" stroke="#222" stroke-width="1.2"/><text x="389.49" y="702.80" font-size="14.80" fill="#111" textLength="16.50" lengthAdjust="spacingAndGlyphs">10</text><text x="406.44" y="695.70" font-size="10.20" fill="#111" textLength="4.21" lengthAdjust="spacingAndGlyphs">−</text><text x="410.68" y="695.70" font-size="10.20" fill="#111" textLength="6.13" lengthAdjust="spacingAndGlyphs">9</text><line x1="424.6" y1="630.5" x2="431.7" y2="630.5" stroke="#222" stroke-width="1.2"/><text x="389.49" y="634.92" font-size="14.80" fill="#111" textLength="16.50" lengthAdjust="spacingAndGlyphs">10</text><text x="406.44" y="627.82" font-size="10.20" fill="#111" textLength="4.21" lengthAdjust="spacingAndGlyphs">−</text><text x="410.74" y="627.82" font-size="10.20" fill="#111" textLength="6.04" lengthAdjust="spacingAndGlyphs">8</text><line x1="424.6" y1="562.6" x2="431.7" y2="562.6" stroke="#222" stroke-width="1.2"/><text x="389.49" y="567.04" font-size="14.80" fill="#111" textLength="16.50" lengthAdjust="spacingAndGlyphs">10</text><text x="406.44" y="559.94" font-size="10.20" fill="#111" textLength="4.21" lengthAdjust="spacingAndGlyphs">−</text><text x="410.61" y="559.94" font-size="10.20" fill="#111" textLength="6.27" lengthAdjust="spacingAndGlyphs">7</text><line x1="424.6" y1="494.8" x2="431.7" y2="494.8" stroke="#222" stroke-width="1.2"/><text x="389.49" y="499.16" font-size="14.80" fill="#111" textLength="16.50" lengthAdjust="spacingAndGlyphs">10</text><text x="406.44" y="492.06" font-size="10.20" fill="#111" textLength="4.21" lengthAdjust="spacingAndGlyphs">−</text><text x="410.65" y="492.06" font-size="10.20" fill="#111" textLength="6.13" lengthAdjust="spacingAndGlyphs">6</text><text x="419.48" y="719.20" font-size="14.80" fill="#111" textLength="10.02" lengthAdjust="spacingAndGlyphs">0</text><line x1="474.8" y1="698.4" x2="474.8" y2="691.2" stroke="#222" stroke-width="1.2"/><text x="463.13" y="719.20" font-size="14.80" fill="#111" textLength="23.31" lengthAdjust="spacingAndGlyphs">0.2</text><line x1="525.0" y1="698.4" x2="525.0" y2="691.2" stroke="#222" stroke-width="1.2"/><text x="513.14" y="719.20" font-size="14.80" fill="#111" textLength="23.02" lengthAdjust="spacingAndGlyphs">0.4</text><line x1="575.1" y1="698.4" x2="575.1" y2="691.2" stroke="#222" stroke-width="1.2"/><text x="563.11" y="719.20" font-size="14.80" fill="#111" textLength="23.92" lengthAdjust="spacingAndGlyphs">0.6</text><line x1="625.3" y1="698.4" x2="625.3" y2="691.2" stroke="#222" stroke-width="1.2"/><text x="613.41" y="719.20" font-size="14.80" fill="#111" textLength="23.92" lengthAdjust="spacingAndGlyphs">0.8</text><text x="664.43" y="719.20" font-size="14.80" fill="#111" textLength="21.66" lengthAdjust="spacingAndGlyphs">1.0</text><text x="440.37" y="472.00" font-size="15.40" fill="#111" textLength="51.58" lengthAdjust="spacingAndGlyphs">300 °C</text><line x1="540.3" y1="566.5" x2="640.1" y2="502.2" stroke="#222" stroke-width="1.2"/><circle cx="474.8" cy="545.3" r="5.7" fill="none" stroke="#fe0000" stroke-width="1.7"/><circle cx="474.8" cy="580.1" r="5.7" fill="none" stroke="#0036ff" stroke-width="1.7"/><circle cx="474.8" cy="645.0" r="5.7" fill="none" stroke="#8080f6" stroke-width="1.7"/><circle cx="575.1" cy="545.5" r="5.7" fill="none" stroke="#05abfa" stroke-width="1.7"/><circle cx="549.9" cy="555.5" r="6.7" fill="#8080f6"/><circle cx="575.1" cy="550.6" r="6.7" fill="#0036ff"/><circle cx="600.2" cy="525.5" r="6.7" fill="#fe0000"/><circle cx="625.3" cy="510.7" r="6.7" fill="#05abfa"/><circle cx="563.7" cy="603.9" r="6.7" fill="#05abfa"/><circle cx="589.3" cy="603.9" r="5.7" fill="none" stroke="#05abfa" stroke-width="1.7"/><text x="604.88" y="609.10" font-size="15.20" fill="#111" textLength="41.52" lengthAdjust="spacingAndGlyphs">BaTiO</text><text x="646.00" y="613.90" font-size="9.00" fill="#111" textLength="5.97" lengthAdjust="spacingAndGlyphs">3</text><circle cx="563.7" cy="626.5" r="6.7" fill="#fe0000"/><circle cx="589.3" cy="626.5" r="5.7" fill="none" stroke="#fe0000" stroke-width="1.7"/><text x="604.87" y="631.70" font-size="15.20" fill="#111" textLength="48.13" lengthAdjust="spacingAndGlyphs">BaSnO</text><text x="652.30" y="636.60" font-size="9.00" fill="#111" textLength="5.97" lengthAdjust="spacingAndGlyphs">3</text><circle cx="563.7" cy="649.1" r="6.7" fill="#0036ff"/><circle cx="589.3" cy="649.1" r="5.7" fill="none" stroke="#0036ff" stroke-width="1.7"/><text x="604.88" y="653.30" font-size="15.20" fill="#111" textLength="43.41" lengthAdjust="spacingAndGlyphs">BaZrO</text><text x="648.50" y="658.40" font-size="9.00" fill="#111" textLength="5.97" lengthAdjust="spacingAndGlyphs">3</text><circle cx="563.7" cy="671.7" r="6.7" fill="#8080f6"/><circle cx="589.3" cy="671.7" r="5.7" fill="none" stroke="#8080f6" stroke-width="1.7"/><text x="604.84" y="676.40" font-size="15.20" fill="#111" textLength="45.70" lengthAdjust="spacingAndGlyphs">BaHfO</text><text x="649.80" y="681.30" font-size="9.00" fill="#111" textLength="5.97" lengthAdjust="spacingAndGlyphs">3</text><text id="dlab" transform="translate(370.7,697.9) rotate(-90) scale(1.0470,1)" font-size="17.2" fill="#111">Proton diffusivity, <tspan font-style="italic">D</tspan><tspan font-size="11.5" dy="3.2">H.bulk</tspan><tspan dy="-3.2"> (cm</tspan><tspan font-size="11.5" dy="-6.5">2</tspan><tspan dy="6.5"> s</tspan><tspan font-size="11.5" dy="-6.5">−1</tspan><tspan dy="6.5">)</tspan></text><text x="504.75" y="745.00" font-size="17.30" fill="#111" textLength="88.99" lengthAdjust="spacingAndGlyphs">Sc content</text>
</svg></body></html>
